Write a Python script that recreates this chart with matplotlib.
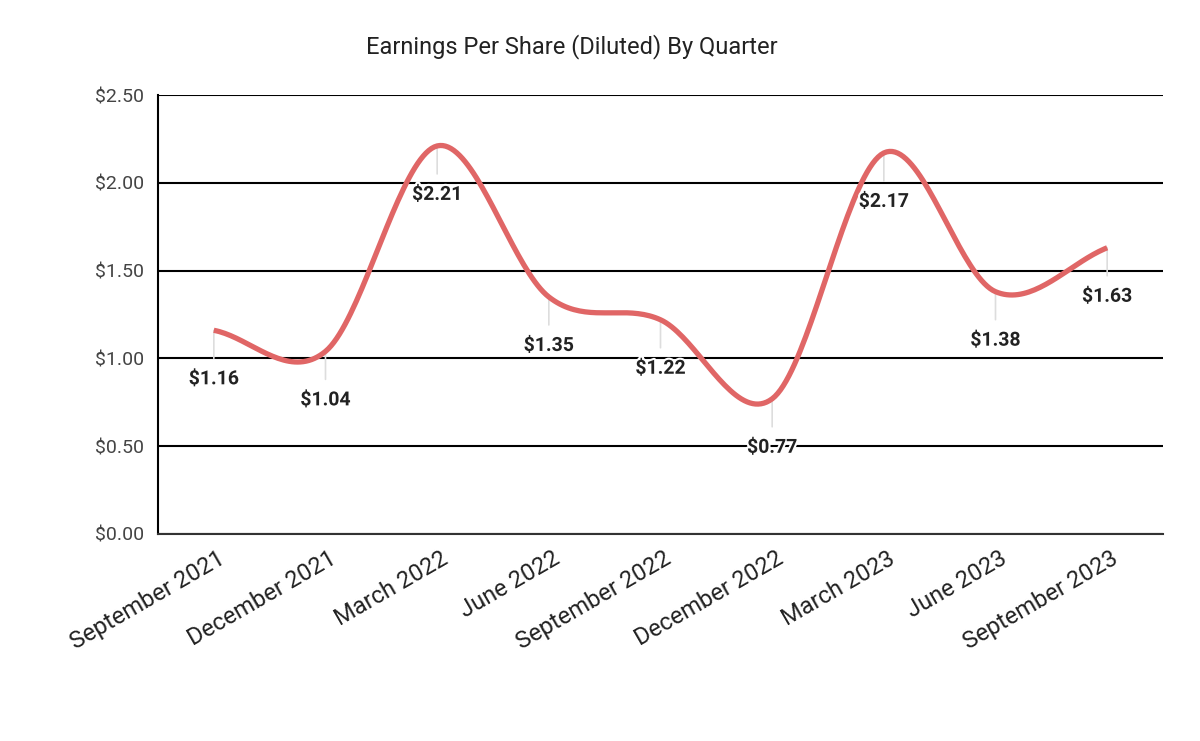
import matplotlib
matplotlib.use("Agg")
import matplotlib.pyplot as plt
import matplotlib.patheffects as pe
import matplotlib.transforms as mtransforms
import numpy as np

plt.rcParams["font.family"] = ["Roboto", "DejaVu Sans"]

quarters = ["September 2021", "December 2021", "March 2022", "June 2022",
            "September 2022", "December 2022", "March 2023", "June 2023",
            "September 2023"]
eps = [1.16, 1.04, 2.21, 1.35, 1.22, 0.77, 2.17, 1.38, 1.63]
y_ticks = [0.0, 0.5, 1.0, 1.5, 2.0, 2.5]


# catmull-rom style smoothing, like the sheets "smooth" line
def smooth(ys, n=40):
    ys = np.asarray(ys, dtype=float)
    k = len(ys)
    m = np.zeros(k)
    m[1:-1] = (ys[2:] - ys[:-2]) / 2
    m[0] = ys[1] - ys[0]
    m[-1] = ys[-1] - ys[-2]
    xs_out, ys_out = [], []
    for i in range(k - 1):
        t = np.linspace(0, 1, n, endpoint=False)
        h00 = 2 * t**3 - 3 * t**2 + 1
        h10 = t**3 - 2 * t**2 + t
        h01 = -2 * t**3 + 3 * t**2
        h11 = t**3 - t**2
        xs_out.append(i + t)
        ys_out.append(h00 * ys[i] + h10 * m[i] + h01 * ys[i + 1] + h11 * m[i + 1])
    xs_out.append([k - 1])
    ys_out.append([ys[-1]])
    return np.concatenate(xs_out), np.concatenate(ys_out)


fig = plt.figure(figsize=(12, 7.41), dpi=100)
ax = fig.add_axes([158 / 1200, 1 - 534 / 741, (1163 - 158) / 1200, (534 - 95) / 741])

x = np.arange(len(eps))
sx, sy = smooth(eps)
ax.plot(sx, sy, color="#e06666", lw=3.8, solid_capstyle="butt", zorder=3)

for xi, yi in zip(x, eps):
    ax.annotate("", xy=(xi, yi), xytext=(0, -28), textcoords="offset pixels",
                xycoords="data",
                arrowprops=dict(arrowstyle="-", color="#dddddd", lw=1.2,
                                shrinkA=0, shrinkB=0), zorder=2)
    ax.annotate(f"${yi:.2f}", xy=(xi, yi), xytext=(0, -49),
                textcoords="offset pixels", ha="center", va="center",
                fontsize=14, fontweight="bold", color="#222222", zorder=4,
                path_effects=[pe.withStroke(linewidth=3, foreground="white")])

ax.set_xlim(-0.5, len(eps) - 0.5)
ax.set_ylim(0, 2.5)
ax.set_yticks(y_ticks)
ax.set_yticklabels([f"${v:.2f}" for v in y_ticks])
ax.set_xticks(x)
ax.set_xticklabels(quarters, rotation=30, ha="right", va="center",
                   rotation_mode="anchor")
ax.tick_params(axis="y", length=0, pad=10, labelsize=14, labelcolor="#444444")
ax.tick_params(axis="x", length=0, pad=15, labelsize=17, labelcolor="#222222")
shift = mtransforms.ScaledTranslation(9 / 100, -2 / 100, fig.dpi_scale_trans)
for lab in ax.get_xticklabels():
    lab.set_transform(lab.get_transform() + shift)

ax.grid(axis="y", color="black", lw=1.5, zorder=1)
ax.set_axisbelow(True)
for s in ["top", "right"]:
    ax.spines[s].set_visible(False)
ax.spines["left"].set_color("black")
ax.spines["left"].set_linewidth(1.5)
ax.spines["bottom"].set_color("#333333")
ax.spines["bottom"].set_linewidth(1.5)

fig.text(572 / 1200, 1 - 47 / 741, "Earnings Per Share (Diluted) By Quarter",
         ha="center", va="center", fontsize=17, color="#222222")

fig.savefig("out.png", dpi=100)
